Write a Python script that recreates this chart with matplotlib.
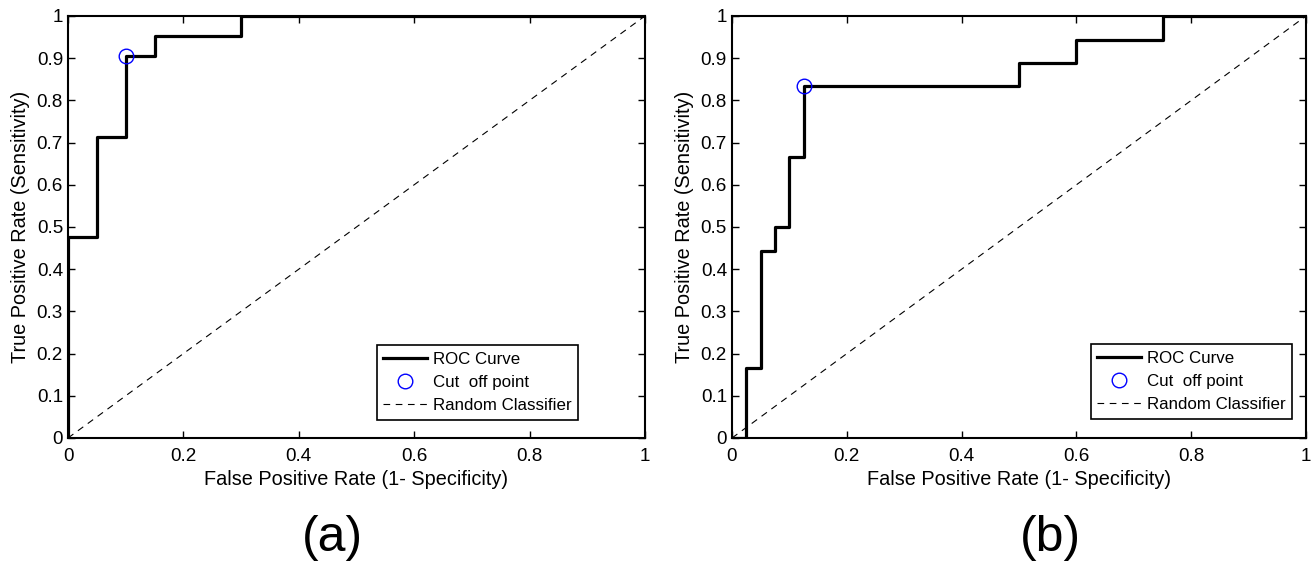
import matplotlib
matplotlib.use("Agg")
import matplotlib.pyplot as plt

plt.rcParams['font.family'] = ['Liberation Sans', 'DejaVu Sans']

# Panel (a) ROC step curve
fpr_a = [0.0, 0.0, 0.05, 0.05, 0.10, 0.10, 0.15, 0.15, 0.30, 0.30, 1.0]
tpr_a = [0.0, 0.476, 0.476, 0.714, 0.714, 0.905, 0.905, 0.952, 0.952, 1.0, 1.0]
cut_a = (0.10, 0.905)

# Panel (b) ROC step curve
fpr_b = [0.0, 0.025, 0.025, 0.05, 0.05, 0.075, 0.075, 0.10, 0.10, 0.125, 0.125,
         0.50, 0.50, 0.60, 0.60, 0.75, 0.75, 1.0]
tpr_b = [0.0, 0.0, 0.167, 0.167, 0.444, 0.444, 0.5, 0.5, 0.667, 0.667, 0.833,
         0.833, 0.889, 0.889, 0.944, 0.944, 1.0, 1.0]
cut_b = (0.125, 0.833)

xticks = [0, 0.2, 0.4, 0.6, 0.8, 1]
xticklabels = ['0', '0.2', '0.4', '0.6', '0.8', '1']
yticks = [0, 0.1, 0.2, 0.3, 0.4, 0.5, 0.6, 0.7, 0.8, 0.9, 1]
yticklabels = ['0', '0.1', '0.2', '0.3', '0.4', '0.5', '0.6', '0.7', '0.8', '0.9', '1']
panel_labels = ['(a)', '(b)']

fig = plt.figure(figsize=(13.13, 5.65), dpi=100)
ax_a = fig.add_axes([0.0518, 0.2248, 0.4394, 0.7469])
ax_b = fig.add_axes([0.5575, 0.2248, 0.4372, 0.7469])

legend_anchor = {'a': (0.884, 0.043), 'b': (0.9756, 0.045)}
label_pos = {'a': (332 / 1313, 1 - 538 / 565), 'b': (1050 / 1313, 1 - 538 / 565)}

for key, ax, fx, ty, cut, lab in [('a', ax_a, fpr_a, tpr_a, cut_a, panel_labels[0]),
                                   ('b', ax_b, fpr_b, tpr_b, cut_b, panel_labels[1])]:
    ax.plot(fx, ty, color='black', lw=2.3, label='ROC Curve', zorder=3)
    ax.plot([cut[0]], [cut[1]], 'o', mfc='none', mec='blue', ms=10.5, mew=1.0,
            label='Cut  off point', zorder=4)
    ax.plot([0, 1], [0, 1], '--', color='black', lw=0.8, dashes=(6, 5),
            label='Random Classifier', zorder=2)
    ax.set_xlim(0, 1)
    ax.set_ylim(0, 1)
    ax.set_xticks(xticks)
    ax.set_xticklabels(xticklabels)
    ax.set_yticks(yticks)
    ax.set_yticklabels(yticklabels)
    ax.tick_params(direction='in', top=True, right=True, length=5, width=1,
                   labelsize=13.6)
    ax.tick_params(axis='x', pad=7.5)
    ax.tick_params(axis='y', pad=3.6)
    for s in ax.spines.values():
        s.set_linewidth(1.5)
    ax.set_xlabel('False Positive Rate (1- Specificity)', fontsize=14.3, labelpad=3)
    ax.set_ylabel('True Positive Rate (Sensitivity)', fontsize=14.3, labelpad=5)
    leg = ax.legend(loc='lower right', bbox_to_anchor=legend_anchor[key],
                    fontsize=12.2, frameon=True, fancybox=False,
                    edgecolor='black', framealpha=1, borderaxespad=0,
                    handlelength=2.55, labelspacing=0.48, borderpad=0.4,
                    handletextpad=0.35)
    leg.get_frame().set_linewidth(1.2)
    fig.text(label_pos[key][0], label_pos[key][1], lab, ha='center', va='center',
             fontsize=36)

fig.savefig('out.png', dpi=100)
